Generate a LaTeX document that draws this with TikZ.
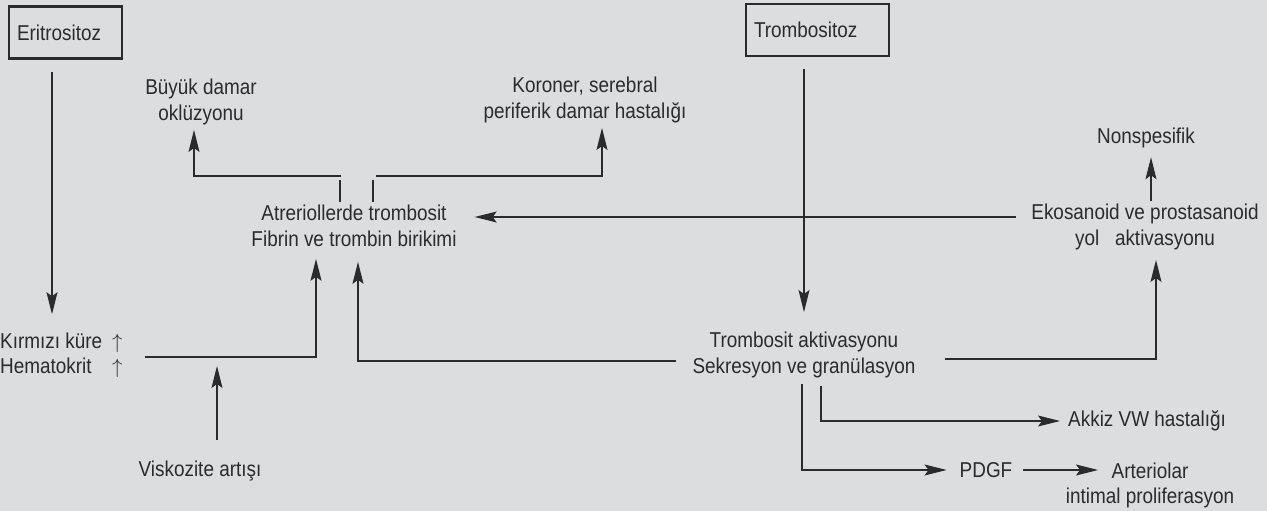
\documentclass[tikz,border=0pt]{standalone}
\usepackage{fontspec}
\setmainfont{Liberation Sans}[FakeStretch=0.88]
\usepackage{tikz}
\usetikzlibrary{arrows.meta, positioning}
\definecolor{bgc}{HTML}{DCDDDF}
\definecolor{ink}{HTML}{2B2B2B}

\begin{document}
\begin{tikzpicture}[x=1pt, y=-1pt,
  every node/.style={font=\fontsize{21.5}{25.5}\selectfont, text=ink, inner sep=0pt, align=center},
  boxnode/.style={draw=ink, line width=2.2pt, minimum height=52pt, inner xsep=8pt, align=left},
  conn/.style={draw=ink, line width=1.3pt},
  arr/.style={conn, -{Stealth[length=22pt, width=11pt, inset=4pt]}}]
% background and frame
\useasboundingbox (0,0) rectangle (1267,511);
\fill[bgc] (0,0) rectangle (1267,511);

% boxed causes
\node[boxnode, text width=97pt] (erit) at (65.5,32.5) {Eritrositoz};
\node[boxnode, text width=127pt] (tromb) at (817.5,30) {Trombositoz};

% labels
\node[anchor=west, align=left] (kirm) at (0,355) {\makebox[112pt][l]{Kırmızı küre}$\uparrow$\\ \makebox[112pt][l]{Hematokrit}$\uparrow$};
\node (visk) at (200,471) {Viskozite artışı};
\node (bdo) at (201,102) {Büyük damar\\oklüzyonu};
\node (kor) at (585,100) {Koroner, serebral\\periferik damar hastalığı};
\node (atr) at (354,226) {Atreriollerde trombosit\\Fibrin ve trombin birikimi};
\node (tak) at (804,355) {Trombosit aktivasyonu\\Sekresyon ve granülasyon};
\node (eko) at (1145,227) {Ekosanoid ve prostasanoid\\yol\ \ \ aktivasyonu};
\node (nons) at (1146,138) {Nonspesifik};
\node[anchor=west] (akk) at (1068,421) {Akkiz VW hastalığı};
\node (pdgf) at (986,470) {PDGF};
\node (art) at (1150,485.5) {Arteriolar\\intimal proliferasyon};

% junction points
\coordinate (hkJoin) at (217,357);
\coordinate (splitL) at (341,176);
\coordinate (splitR) at (376,176);
\coordinate (artIn) at (1098,470);

% Eritrositoz side
\draw[arr, shorten <=12.5pt, shorten >=18pt] ([xshift=-13.5pt]erit.south) -- ([xshift=-13.5pt]erit.south |- kirm.north);
\draw[arr, shorten <=22pt, shorten >=12pt] ([yshift=-2pt]kirm.east) -| ([xshift=-38pt]atr.south);
\draw[arr, shorten <=21pt, shorten >=9pt] ([xshift=17pt]visk.north) -- (hkJoin);

% outcomes of the deposits
\draw[conn, shorten <=3pt, shorten >=4pt] ([xshift=-14pt]atr.north) -- ([xshift=-14pt]atr.north |- splitL);
\draw[conn, shorten <=3pt, shorten >=4pt] ([xshift=19pt]atr.north) -- ([xshift=19pt]atr.north |- splitR);
\draw[arr, shorten >=5pt] (splitL) -| ([xshift=-7pt]bdo.south);
\draw[arr, shorten >=5pt] (splitR) -| ([xshift=17pt]kor.south);

% Trombositoz side
\draw[arr, shorten <=12pt, shorten >=20pt] ([xshift=-13.5pt]tromb.south) -- ([xshift=-13.5pt]tromb.south |- tak.north);
\draw[arr, shorten <=16pt, shorten >=15pt] ([yshift=-6pt]tak.west) -| ([xshift=4pt]atr.south);
\draw[arr, shorten <=29pt, shorten >=10pt] ([yshift=-4pt]tak.east) -| ([xshift=11pt]eko.south);
\draw[arr, shorten <=15pt, shorten >=18pt] ([yshift=10pt]eko.west) -- ([yshift=10pt]eko.west -| atr.east);
\draw[arr, shorten <=3pt, shorten >=9pt] ([xshift=6pt]eko.north) -- ([xshift=6pt]eko.north |- nons.south);

% secretion products
\draw[arr, shorten <=8pt, shorten >=8pt] ([xshift=17pt]tak.south) |- (akk.west);
\draw[arr, shorten <=6pt, shorten >=13pt] ([xshift=-2pt]tak.south) |- (pdgf.west);
\draw[arr, shorten <=11pt] (pdgf.east) -- (artIn);
\end{tikzpicture}
\end{document}
